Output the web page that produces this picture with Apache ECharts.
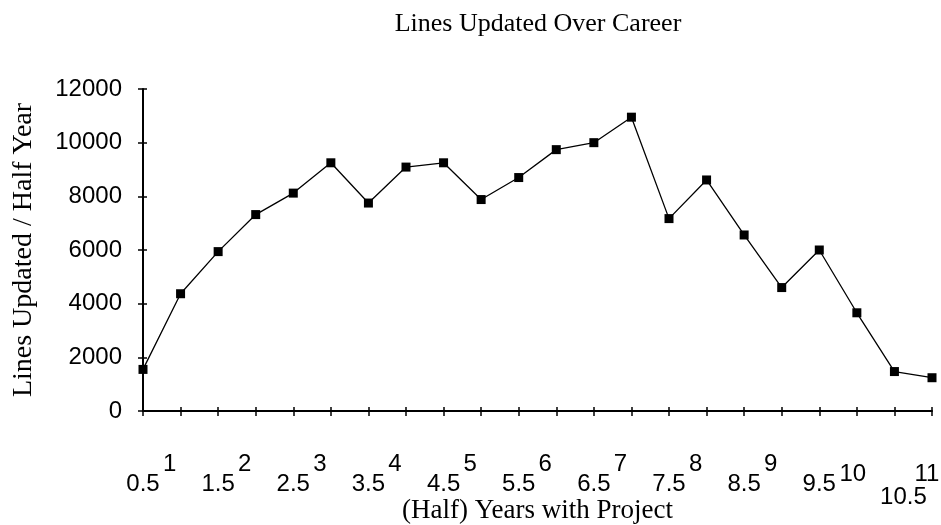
<!DOCTYPE html>
<html>
<head>
<meta charset="utf-8">
<script src="https://cdn.jsdelivr.net/npm/echarts@6/dist/echarts.min.js"></script>
<style>
  html, body { margin: 0; padding: 0; background: #fff; }
  #chart { width: 941px; height: 525px; }
</style>
</head>
<body>
<div id="chart"></div>
<script>
// half-year marks along the x axis
var xLabels = ['0.5', '1', '1.5', '2', '2.5', '3', '3.5', '4', '4.5', '5', '5.5',
  '6', '6.5', '7', '7.5', '8', '8.5', '9', '9.5', '10', '10.5', '11']
// lines updated per half year
var linesUpdated = [1550, 4370, 5940, 7320, 8120, 9250, 7750, 9090, 9250, 7880, 8700,
  9740, 10000, 10950, 7170, 8610, 6560, 4600, 6000, 3660, 1470, 1240]
var yTicks = [0, 2000, 4000, 6000, 8000, 10000, 12000]

var tickFont = 'Liberation Sans'
var serif = 'Liberation Serif'
var tickSize = 24

// label placement like the old chart: whole years up, half years down
function labelStyle(v) {
  if (v === '10') return 'ten'
  if (v === '10.5') return 'tenhalf'
  if (v === '11') return 'eleven'
  return v.indexOf('.') >= 0 ? 'lo' : 'hi'
}

function rt(pad) {
  return { fontFamily: tickFont, fontSize: tickSize, color: '#000', padding: pad }
}

var chart = echarts.init(document.getElementById('chart'))
chart.setOption({
  animation: false,
  backgroundColor: '#fff',
  title: {
    text: 'Lines Updated Over Career',
    left: 533,
    top: 6,
    textAlign: 'center',
    textStyle: { fontFamily: serif, fontSize: 26, fontWeight: 'normal', color: '#000' }
  },
  grid: { left: 143, right: 9, top: 89, bottom: 114, containLabel: false, outerBoundsMode: 'none' },
  xAxis: [{
    type: 'category',
    data: xLabels,
    boundaryGap: false,
    name: '(Half) Years with Project',
    nameLocation: 'middle',
    nameGap: 86,
    nameMoveOverlap: false,
    nameTextStyle: { fontFamily: serif, fontSize: 27, color: '#000' },
    axisLine: { lineStyle: { color: '#000', width: 2 } },
    axisTick: { alignWithLabel: true, length: 5, lineStyle: { color: '#000', width: 1.5 } },
    axisLabel: {
      interval: 0,
      margin: 41,
      color: '#000',
      fontFamily: tickFont,
      fontSize: tickSize,
      formatter: function (v) {
        return '{' + labelStyle(v) + '|' + v + '}'
      },
      rich: {
        hi: rt([0, 22, 0, 0]),
        lo: rt([20, 0, 0, 0]),
        ten: rt([10, 8, 0, 0]),
        tenhalf: rt([33, 0, 0, 18]),
        eleven: rt([10, 10, 0, 0])
      }
    },
    splitLine: { show: false }
  }, {
    // second copy only to draw the inner half of the crossing ticks
    type: 'category',
    data: xLabels,
    boundaryGap: false,
    position: 'bottom',
    axisLine: { show: false },
    axisTick: { inside: true, alignWithLabel: true, length: 4, lineStyle: { color: '#000', width: 1.5 } },
    axisLabel: { show: false },
    splitLine: { show: false }
  }],
  yAxis: [{
    type: 'value',
    min: yTicks[0],
    max: yTicks[yTicks.length - 1],
    interval: 2000,
    name: 'Lines Updated / Half Year',
    nameLocation: 'middle',
    nameGap: 105,
    nameRotate: 90,
    nameMoveOverlap: false,
    nameTextStyle: { fontFamily: serif, fontSize: 28, color: '#000' },
    axisLine: { show: true, lineStyle: { color: '#000', width: 2 } },
    axisTick: { show: true, length: 5, lineStyle: { color: '#000', width: 1.5 } },
    axisLabel: {
      margin: 21, color: '#000', fontFamily: tickFont, fontSize: tickSize,
      formatter: function (v) { return String(v) }
    },
    splitLine: { show: false }
  }, {
    type: 'value',
    min: yTicks[0],
    max: yTicks[yTicks.length - 1],
    interval: 2000,
    position: 'left',
    axisLine: { show: false },
    axisTick: { show: true, inside: true, length: 4, lineStyle: { color: '#000', width: 1.5 } },
    axisLabel: { show: false },
    splitLine: { show: false }
  }],
  series: [{
    type: 'line',
    data: linesUpdated,
    symbol: 'rect',
    symbolSize: 9,
    itemStyle: { color: '#000' },
    lineStyle: { color: '#000', width: 1.3 }
  }]
})
</script>
</body>
</html>
